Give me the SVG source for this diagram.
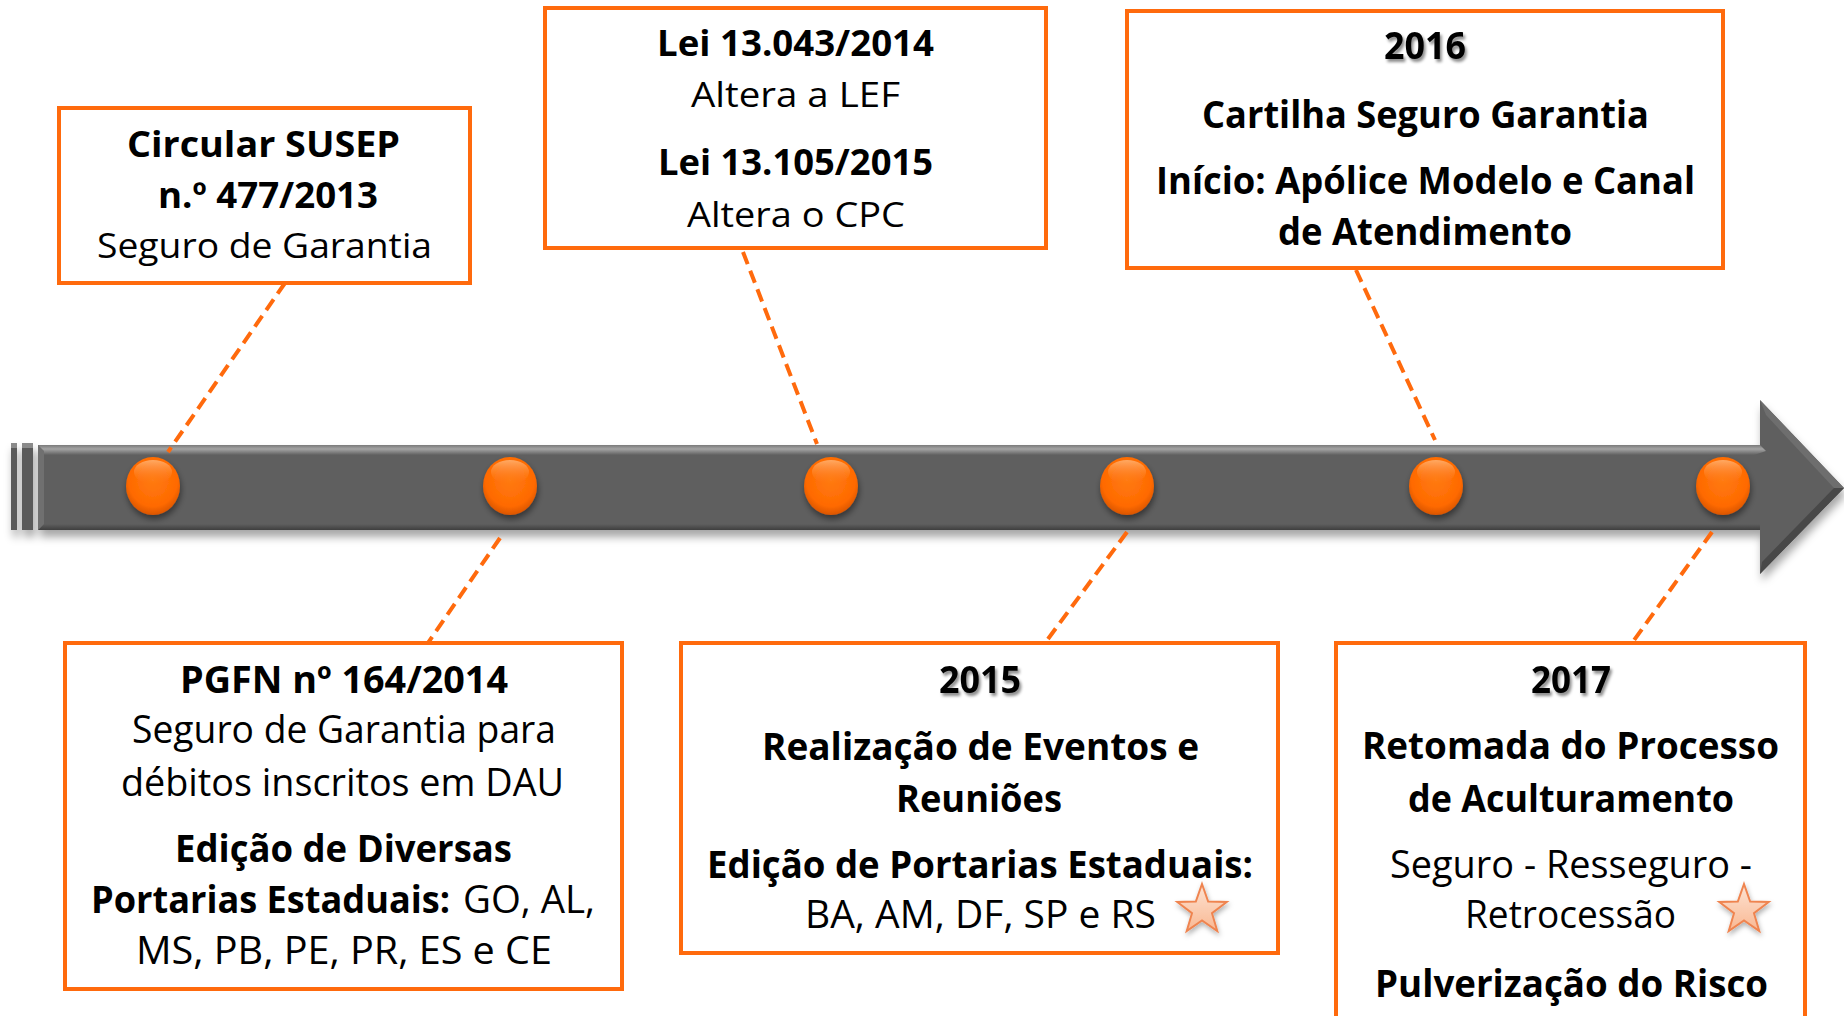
<svg xmlns="http://www.w3.org/2000/svg" xmlns:xlink="http://www.w3.org/1999/xlink" width="1844" height="1016" viewBox="0 0 1844 1016">
<defs>
<style>
.box{fill:#fff;stroke:#FF6A0D;stroke-width:4}
.t{font-family:"Open Sans","Liberation Sans",sans-serif;fill:#000;text-anchor:middle}
.b{font-weight:700}
.r{font-weight:400}
.s35{font-size:35px}
.s38{font-size:38px}
.conn{fill:none;stroke:#FF6A0D;stroke-width:4;stroke-dasharray:13 7}
.yr{filter:url(#tshadow)}
</style>
<filter id="barshadow" x="-5%" y="-30%" width="110%" height="170%">
<feDropShadow dx="2" dy="7" stdDeviation="4" flood-color="#000" flood-opacity="0.35"/>
</filter>
<filter id="dotshadow" x="-40%" y="-40%" width="180%" height="180%">
<feDropShadow dx="1" dy="4" stdDeviation="3" flood-color="#000" flood-opacity="0.45"/>
</filter>
<filter id="tshadow" x="-20%" y="-30%" width="140%" height="170%">
<feDropShadow dx="2" dy="3" stdDeviation="1.6" flood-color="#000" flood-opacity="0.45"/>
</filter>
<filter id="starshadow" x="-40%" y="-40%" width="180%" height="180%">
<feDropShadow dx="1" dy="3" stdDeviation="2.5" flood-color="#000" flood-opacity="0.3"/>
</filter>
<linearGradient id="topbevel" x1="0" y1="0" x2="0" y2="1">
<stop offset="0" stop-color="#7a7a7a"/>
<stop offset="0.4" stop-color="#a4a4a4"/>
<stop offset="1" stop-color="#606060"/>
</linearGradient>
<linearGradient id="botbevel" x1="0" y1="0" x2="0" y2="1">
<stop offset="0" stop-color="#5f5f5f"/>
<stop offset="1" stop-color="#3f3f3f"/>
</linearGradient>
<radialGradient id="dotgrad" cx="50%" cy="40%" r="60%">
<stop offset="0" stop-color="#FF7A12"/>
<stop offset="0.75" stop-color="#FF6A00"/>
<stop offset="1" stop-color="#D95500"/>
</radialGradient>
<linearGradient id="dothl" x1="0" y1="0" x2="0" y2="1">
<stop offset="0" stop-color="#FFB070" stop-opacity="0.9"/>
<stop offset="1" stop-color="#FF7A1A" stop-opacity="0"/>
</linearGradient>
<linearGradient id="stargrad" x1="0" y1="0" x2="0" y2="1">
<stop offset="0" stop-color="#FDE3D3"/>
<stop offset="1" stop-color="#F9B893"/>
</linearGradient>
<path id="star" d="M0,-26 L6.17,-8.49 L24.73,-8.03 L9.99,3.24 L15.28,21.03 L0,10.5 L-15.28,21.03 L-9.99,3.24 L-24.73,-8.03 L-6.17,-8.49 Z" fill="url(#stargrad)" stroke="#EF8450" stroke-width="2" stroke-linejoin="miter"/>
<g id="dot">
<ellipse cx="0" cy="0" rx="27" ry="29" fill="url(#dotgrad)" filter="url(#dotshadow)"/>
<ellipse cx="0" cy="-14" rx="19" ry="12" fill="url(#dothl)"/>
</g>
</defs>

<rect x="0" y="0" width="1844" height="1016" fill="#fff"/>

<g id="timeline">
<g filter="url(#barshadow)">
<rect x="11" y="443" width="6" height="87" fill="#5a5a5a"/>
<rect x="22" y="443" width="11" height="87" fill="#5a5a5a"/>
<polygon points="38,445 1760,445 1760,400 1844,488 1760,574 1760,530 38,530" fill="#5f5f5f"/>
</g>
<rect x="11" y="443" width="6" height="5" fill="#8a8a8a"/>
<rect x="22" y="443" width="11" height="5" fill="#8a8a8a"/>
<polygon points="38,445 1760,445 1766,451 1754,455 44,455" fill="url(#topbevel)"/>
<polygon points="44,524 1760,524 1760,530 38,530" fill="url(#botbevel)"/>
<polygon points="38,445 44,451 44,524 38,530" fill="#707070"/>
<polygon points="1760,400 1844,488 1834,488 1766,415" fill="#6e6e6e"/>
<polygon points="1834,488 1844,488 1760,574 1762,562" fill="#484848"/>
</g>

<g id="points">
<use xlink:href="#dot" href="#dot" x="153" y="486"/>
<use xlink:href="#dot" href="#dot" x="510" y="486"/>
<use xlink:href="#dot" href="#dot" x="831" y="486"/>
<use xlink:href="#dot" href="#dot" x="1127" y="486"/>
<use xlink:href="#dot" href="#dot" x="1436" y="486"/>
<use xlink:href="#dot" href="#dot" x="1723" y="486"/>
</g>

<g id="connectors">
<line class="conn" x1="285" y1="283" x2="168" y2="452"/>
<line class="conn" x1="500" y1="538" x2="428" y2="643"/>
<line class="conn" x1="743" y1="252" x2="817" y2="444"/>
<line class="conn" x1="1127" y1="532" x2="1045" y2="643"/>
<line class="conn" x1="1356" y1="270" x2="1435" y2="440"/>
<line class="conn" x1="1712" y1="532" x2="1632" y2="643"/>
</g>

<g id="box-susep">
<rect class="box" x="59" y="108" width="411" height="175"/>
<text class="t b s35" x="263.5" y="157" textLength="273" lengthAdjust="spacingAndGlyphs">Circular SUSEP</text>
<text class="t b s35" x="268" y="208" textLength="220" lengthAdjust="spacingAndGlyphs">n.º 477/2013</text>
<text class="t r s35" x="264.5" y="258" textLength="335" lengthAdjust="spacingAndGlyphs">Seguro de Garantia</text>
</g>

<g id="box-lei">
<rect class="box" x="545" y="8" width="501" height="240"/>
<text class="t b s35" x="795.5" y="56" textLength="277" lengthAdjust="spacingAndGlyphs">Lei 13.043/2014</text>
<text class="t r s35" x="795.5" y="107" textLength="209" lengthAdjust="spacingAndGlyphs">Altera a LEF</text>
<text class="t b s35" x="795.5" y="175" textLength="275" lengthAdjust="spacingAndGlyphs">Lei 13.105/2015</text>
<text class="t r s35" x="796" y="227" textLength="218" lengthAdjust="spacingAndGlyphs">Altera o CPC</text>
</g>

<g id="box-2016">
<rect class="box" x="1127" y="11" width="596" height="257"/>
<text class="t b s38 yr" x="1425" y="59" textLength="82" lengthAdjust="spacingAndGlyphs">2016</text>
<text class="t b s38" x="1425.5" y="128" textLength="447" lengthAdjust="spacingAndGlyphs">Cartilha Seguro Garantia</text>
<text class="t b s38" x="1425.5" y="194" textLength="539" lengthAdjust="spacingAndGlyphs">Início: Apólice Modelo e Canal</text>
<text class="t b s38" x="1425" y="245" textLength="294" lengthAdjust="spacingAndGlyphs">de Atendimento</text>
</g>

<g id="box-pgfn">
<rect class="box" x="65" y="643" width="557" height="346"/>
<text class="t b s38" x="344" y="693" textLength="328" lengthAdjust="spacingAndGlyphs">PGFN nº 164/2014</text>
<text class="t r s38" x="344" y="743" textLength="424" lengthAdjust="spacingAndGlyphs">Seguro de Garantia para</text>
<text class="t r s38" x="342.5" y="796" textLength="443" lengthAdjust="spacingAndGlyphs">débitos inscritos em DAU</text>
<text class="t b s38" x="343.5" y="862" textLength="337" lengthAdjust="spacingAndGlyphs">Edição de Diversas</text>
<text class="t b s38" x="91" y="913" style="text-anchor:start" textLength="359" lengthAdjust="spacingAndGlyphs">Portarias Estaduais:</text>
<text class="t r s38" x="463" y="913" style="text-anchor:start" textLength="132" lengthAdjust="spacingAndGlyphs">GO, AL,</text>
<text class="t r s38" x="344" y="964" textLength="416" lengthAdjust="spacingAndGlyphs">MS, PB, PE, PR, ES e CE</text>
</g>

<g id="box-2015">
<rect class="box" x="681" y="643" width="597" height="310"/>
<text class="t b s38 yr" x="980" y="693" textLength="82" lengthAdjust="spacingAndGlyphs">2015</text>
<text class="t b s38" x="980.5" y="760" textLength="437" lengthAdjust="spacingAndGlyphs">Realização de Eventos e</text>
<text class="t b s38" x="979" y="812" textLength="166" lengthAdjust="spacingAndGlyphs">Reuniões</text>
<text class="t b s38" x="980" y="878" textLength="546" lengthAdjust="spacingAndGlyphs">Edição de Portarias Estaduais:</text>
<text class="t r s38" x="980.5" y="928" textLength="351" lengthAdjust="spacingAndGlyphs">BA, AM, DF, SP e RS</text>
<use xlink:href="#star" href="#star" x="1202" y="910" filter="url(#starshadow)"/>
</g>

<g id="box-2017">
<rect class="box" x="1336" y="643" width="469" height="400"/>
<text class="t b s38 yr" x="1571" y="693" textLength="80" lengthAdjust="spacingAndGlyphs">2017</text>
<text class="t b s38" x="1570.5" y="759" textLength="417" lengthAdjust="spacingAndGlyphs">Retomada do Processo</text>
<text class="t b s38" x="1571" y="812" textLength="326" lengthAdjust="spacingAndGlyphs">de Aculturamento</text>
<text class="t r s38" x="1571" y="878" textLength="362" lengthAdjust="spacingAndGlyphs">Seguro - Resseguro -</text>
<text class="t r s38" x="1570.5" y="928" textLength="211" lengthAdjust="spacingAndGlyphs">Retrocessão</text>
<text class="t b s38" x="1571.5" y="997" textLength="393" lengthAdjust="spacingAndGlyphs">Pulverização do Risco</text>
<use xlink:href="#star" href="#star" x="1744" y="910" filter="url(#starshadow)"/>
</g>
</svg>
